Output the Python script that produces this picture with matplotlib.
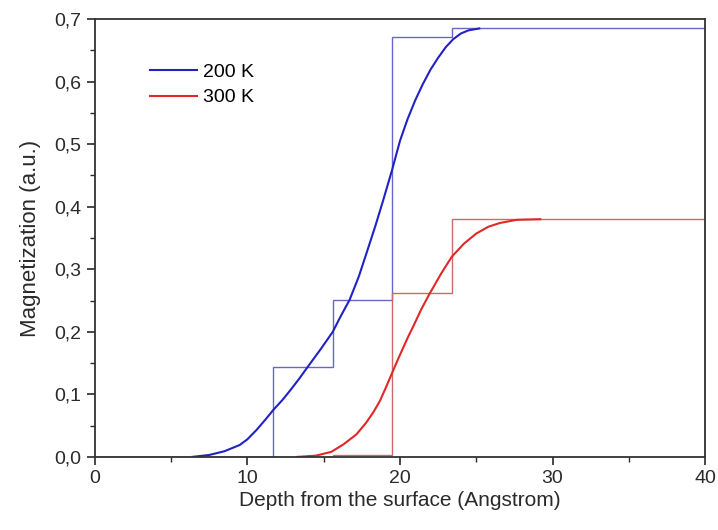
import matplotlib
matplotlib.use('Agg')
import matplotlib.pyplot as plt
from matplotlib.ticker import MultipleLocator, FuncFormatter

plt.rcParams['font.family'] = ['Liberation Sans', 'DejaVu Sans']

BLUE = '#2222c4'
BLUE_STEP = '#6666cc'
RED = '#e02828'
RED_STEP = '#d06868'
INK = '#2a2a2a'

# layer model (step profiles)
layer_edges = [0, 11.7, 15.6, 19.5, 23.4, 40]
step_200k = [0.0, 0.144, 0.251, 0.672, 0.685]
step_300k = [0.0, 0.0, 0.003, 0.262, 0.38]

# smoothed profiles
depth_200k = [6.4, 7.5, 8.5, 9.5, 10.0, 10.6, 11.2, 11.7, 12.3, 12.8, 13.4, 13.9, 14.8,
              15.6, 16.1, 16.7, 17.3, 17.8, 18.4, 18.9, 19.5, 20.0, 20.5, 21.0, 21.5,
              22.0, 22.5, 23.0, 23.5, 24.0, 24.5, 25.2]
mag_200k = [0.0, 0.003, 0.009, 0.019, 0.028, 0.043, 0.06, 0.075, 0.091, 0.106, 0.125, 0.142, 0.172,
            0.2, 0.224, 0.251, 0.288, 0.325, 0.37, 0.41, 0.46, 0.505, 0.54, 0.57, 0.596,
            0.619, 0.638, 0.655, 0.668, 0.677, 0.682, 0.685]
depth_300k = [13.3, 14.5, 15.5, 16.3, 17.15, 17.8, 18.3, 18.7, 19.1, 19.5, 20.0, 20.5, 20.9,
              21.4, 21.97, 22.7, 23.4, 24.2, 25.0, 25.8, 26.56, 27.65, 29.2]
mag_300k = [0.0, 0.002, 0.008, 0.02, 0.036, 0.055, 0.073, 0.09, 0.112, 0.135, 0.163, 0.19, 0.21,
            0.236, 0.262, 0.293, 0.32, 0.341, 0.357, 0.368, 0.374, 0.379, 0.38]

fig = plt.figure(figsize=(7.18, 5.30), dpi=100)
ax = fig.add_axes([0.132, 0.138, 0.85, 0.826])

ax.stairs(step_200k, layer_edges, color=BLUE_STEP, lw=1.0)
ax.stairs(step_300k, layer_edges, color=RED_STEP, lw=1.0)
ax.plot(depth_200k, mag_200k, color=BLUE, lw=1.5, label='200 K')
ax.plot(depth_300k, mag_300k, color=RED, lw=1.5, label='300 K')

ax.set_xlim(0, 40)
ax.set_ylim(0, 0.7)
ax.xaxis.set_major_locator(MultipleLocator(10))
ax.xaxis.set_minor_locator(MultipleLocator(5))
ax.yaxis.set_major_locator(MultipleLocator(0.1))
ax.yaxis.set_minor_locator(MultipleLocator(0.05))
ax.yaxis.set_major_formatter(FuncFormatter(lambda v, p: f'{v:.1f}'.replace('.', ',')))
ax.tick_params(which='major', length=6, width=1.2, labelsize=14, color=INK, labelcolor=INK)
ax.tick_params(which='minor', length=3.5, width=1.0, color=INK)
for s in ax.spines.values():
    s.set_linewidth(1.3)
    s.set_color('#333333')

ax.set_xlabel('Depth from the surface (Angstrom)', fontsize=15, color=INK, labelpad=3)
ax.set_ylabel('Magnetization (a.u.)', fontsize=16, color=INK, labelpad=10)

ax.legend(loc='upper left', bbox_to_anchor=(0.075, 0.922), frameon=False, fontsize=14,
          handlelength=2.4, handletextpad=0.3, labelspacing=0.42, borderpad=0)

plt.savefig('out.png', dpi=100)
